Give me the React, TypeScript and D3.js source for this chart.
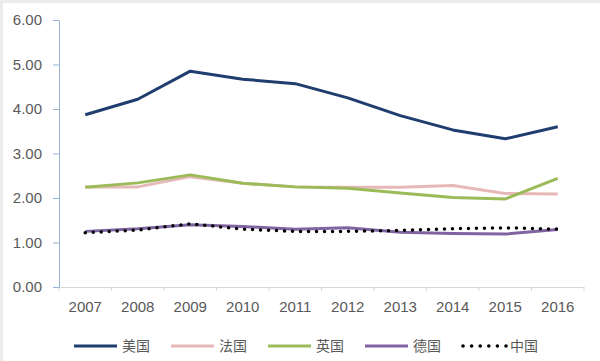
import React, { useEffect, useRef } from 'react';
import * as d3 from 'd3';

const years = ['2007', '2008', '2009', '2010', '2011', '2012', '2013', '2014', '2015', '2016'];
const usa = [3.87, 4.22, 4.85, 4.67, 4.57, 4.25, 3.85, 3.53, 3.33, 3.6];
const france = [2.25, 2.25, 2.48, 2.33, 2.25, 2.24, 2.24, 2.28, 2.1, 2.09];
const uk = [2.24, 2.34, 2.52, 2.33, 2.25, 2.22, 2.11, 2.01, 1.98, 2.44];
const germany = [1.25, 1.31, 1.4, 1.36, 1.3, 1.33, 1.23, 1.2, 1.19, 1.29];
const china = [1.22, 1.28, 1.42, 1.3, 1.25, 1.25, 1.27, 1.31, 1.33, 1.3];
const yTicks = [0, 1, 2, 3, 4, 5, 6];

const seriesNames = ['美国', '法国', '英国', '德国', '中国'];
const seriesColors = ['#1f3d6e', '#e6b9b8', '#9bbb59', '#8064a2', '#000000'];

export default function App() {
  const ref = useRef<SVGSVGElement>(null);

  useEffect(() => {
    const width = 600;
    const height = 361;
    const margin = { top: 20, right: 16, bottom: 74, left: 59 };
    const font = '"Liberation Sans", Arial, sans-serif';

    const svg = d3.select(ref.current);
    svg.selectAll('*').remove();

    // background + grey frame strips
    svg.append('rect').attr('width', width).attr('height', height).attr('fill', '#ffffff');
    svg.append('rect').attr('x', 0).attr('y', 0).attr('width', width).attr('height', 3).attr('fill', '#ebebeb');
    svg.append('rect').attr('x', 0).attr('y', 0).attr('width', 3).attr('height', height).attr('fill', '#ebebeb');

    const x = d3.scaleBand().domain(years).range([margin.left, width - margin.right]);
    const y = d3.scaleLinear().domain([0, 6]).range([height - margin.bottom, margin.top]);
    const cx = (d: string) => (x(d) as number) + x.bandwidth() / 2;

    // x axis
    const xAxis = svg.append('g')
      .attr('transform', `translate(0,${y(0)})`)
      .call(d3.axisBottom(x).tickSize(0).tickPadding(14));
    xAxis.select('.domain').attr('stroke', '#d9d9d9').attr('stroke-width', 1);
    xAxis.selectAll('text').style('font-family', font).style('font-size', '15px').attr('fill', '#595959');
    const bounds = years.map(d => x(d) as number).concat([width - margin.right]);
    xAxis.selectAll('line.sep')
      .data(bounds)
      .enter().append('line')
      .attr('class', 'sep')
      .attr('x1', d => d).attr('x2', d => d)
      .attr('y1', 0).attr('y2', 4)
      .attr('stroke', '#d9d9d9');

    // y axis
    const yAxis = svg.append('g')
      .attr('transform', `translate(${margin.left},0)`)
      .call(d3.axisLeft(y).tickValues(yTicks).tickFormat(d3.format('.2f')).tickSize(6).tickSizeOuter(0).tickPadding(11));
    yAxis.select('.domain').attr('stroke', '#95b3d7');
    yAxis.selectAll('line').attr('stroke', '#95b3d7');
    yAxis.selectAll('text').style('font-family', font).style('font-size', '15px').attr('fill', '#595959');

    const line = d3.line<number>()
      .x((_, i) => cx(years[i]))
      .y(d => y(d));

    const all = [usa, france, uk, germany, china];
    // draw from back to front
    [1, 2, 0, 3].forEach(i => {
      svg.append('path')
        .datum(all[i])
        .attr('d', line)
        .attr('fill', 'none')
        .attr('stroke', seriesColors[i])
        .attr('stroke-width', 3)
        .attr('stroke-linejoin', 'round');
    });
    svg.append('path')
      .datum(china)
      .attr('d', line)
      .attr('fill', 'none')
      .attr('stroke', '#000')
      .attr('stroke-width', 3.5)
      .attr('stroke-linecap', 'round')
      .attr('stroke-dasharray', '0 8');

    // legend
    const legendY = 346;
    const legend = svg.append('g');
    seriesNames.forEach((name, i) => {
      const lx = 74 + i * 97;
      const item = legend.append('g').attr('transform', `translate(${lx},${legendY})`);
      if (i === 4) {
        item.selectAll('circle')
          .data(d3.range(6))
          .enter().append('circle')
          .attr('cx', d => 1 + d * 8.6)
          .attr('cy', 0)
          .attr('r', 1.8)
          .attr('fill', '#000');
      } else {
        item.append('line')
          .attr('x1', 0).attr('x2', 43)
          .attr('y1', 0).attr('y2', 0)
          .attr('stroke', seriesColors[i])
          .attr('stroke-width', 3);
      }
      item.append('text')
        .attr('x', 48)
        .attr('y', 0)
        .attr('dy', '0.35em')
        .text(name)
        .style('font-family', '"Noto Sans CJK SC", sans-serif')
        .style('font-size', '14px')
        .attr('fill', '#595959');
    });
  }, []);

  return (
    <svg ref={ref} width={600} height={361} style={{ position: 'absolute', left: 0, top: 0 }} />
  );
}
